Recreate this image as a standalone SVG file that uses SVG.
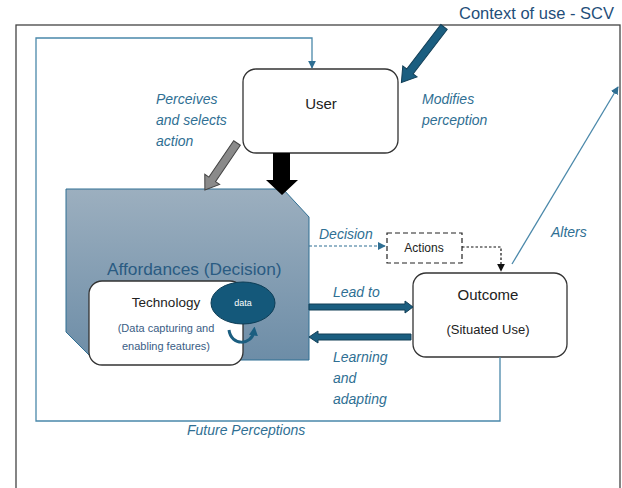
<svg xmlns="http://www.w3.org/2000/svg" width="622" height="488" viewBox="0 0 622 488">
<defs>
<style>
.lbl{font-family:"Liberation Sans",Arial,sans-serif;font-style:italic;font-size:14px;fill:#2f6f93}
.txt{font-family:"Liberation Sans",Arial,sans-serif;fill:#222}
.box{fill:#fff;stroke:#333;stroke-width:1.3}
.thin{fill:none;stroke:#4a88aa;stroke-width:1.3}
.blk{fill:#1b5e80;stroke:#123f57;stroke-width:1}
</style>
<linearGradient id="aff" x1="0" y1="0" x2="0" y2="1">
<stop offset="0" stop-color="#9cafbf"/>
<stop offset="1" stop-color="#6d8da7"/>
</linearGradient>
<marker id="mThin" viewBox="0 0 10 10" refX="9" refY="5" markerWidth="8" markerHeight="8" markerUnits="userSpaceOnUse" orient="auto">
<path d="M0,0 L10,5 L0,10 z" fill="#2f6f93"/>
</marker>
<marker id="mBlack" viewBox="0 0 10 10" refX="9" refY="5" markerWidth="8" markerHeight="8" markerUnits="userSpaceOnUse" orient="auto">
<path d="M0,0 L10,5 L0,10 z" fill="#111"/>
</marker>
<marker id="mCurl" viewBox="0 0 10 10" refX="5" refY="5" markerWidth="9" markerHeight="9" markerUnits="userSpaceOnUse" orient="auto">
<path d="M0,0 L10,5 L0,10 z" fill="#1b5e80"/>
</marker>
</defs>
<rect x="0" y="0" width="622" height="488" fill="#fff"/>
<rect id="frame" x="16" y="25" width="604" height="470" fill="none" stroke="#444" stroke-width="1.3"/>
<text x="459" y="19" style="font-family:'Liberation Sans',Arial,sans-serif;font-size:16.5px;fill:#1f4e79">Context of use - SCV</text>

<g id="affordances">
<polygon points="66,189 283,189 309,217 309,360 94,360 66,332" fill="url(#aff)" stroke="#2f6f93" stroke-width="1"/>
<text x="107" y="275" style="font-family:'Liberation Sans',Arial,sans-serif;font-size:17.3px;fill:#2a5b82">Affordances (Decision)</text>
</g>

<g id="technology">
<rect class="box" x="89" y="281" width="154" height="84" rx="13"/>
<text class="txt" x="166" y="307" text-anchor="middle" font-size="13.5">Technology</text>
<text x="166" y="332" text-anchor="middle" style="font-family:'Liberation Sans',Arial,sans-serif;font-size:11px;fill:#3a5d85">(Data capturing and</text>
<text x="166" y="350" text-anchor="middle" style="font-family:'Liberation Sans',Arial,sans-serif;font-size:11px;fill:#3a5d85">enabling features)</text>
</g>

<g id="data">
<ellipse cx="243" cy="303" rx="32" ry="21" fill="#14587a" stroke="#0d3d56" stroke-width="1"/>
<text x="243" y="306" text-anchor="middle" style="font-family:'Liberation Sans',Arial,sans-serif;font-size:9px;fill:#fff">data</text>
</g>

<g id="user">
<rect class="box" x="243" y="69" width="155" height="84" rx="13"/>
<text class="txt" x="321" y="109" text-anchor="middle" font-size="15">User</text>
</g>

<g id="actions">
<rect x="387" y="233" width="75" height="30" fill="#fff" stroke="#222" stroke-width="1.2" stroke-dasharray="5,3"/>
<text class="txt" x="424" y="252" text-anchor="middle" font-size="12">Actions</text>
</g>

<g id="outcome">
<rect class="box" x="413" y="273" width="154" height="84" rx="13"/>
<text class="txt" x="488" y="300" text-anchor="middle" font-size="15">Outcome</text>
<text class="txt" x="488" y="334" text-anchor="middle" font-size="13">(Situated Use)</text>
</g>

<g id="connectors">
<path class="thin" d="M500,357 V421 H36 V38 H312 V68" marker-end="url(#mThin)"/>
<line class="thin" x1="512" y1="264" x2="618" y2="87" marker-end="url(#mThin)"/>
<polygon class="blk" points="0,-4 56,-4 56,-9 70,0 56,9 56,4 0,4" transform="translate(444,27) rotate(127.5)"/>
<polygon points="0,-4 44,-4 44,-9 57,0 44,9 44,4 0,4" fill="#8a8a8a" stroke="#444" stroke-width="1" transform="translate(237,143) rotate(124.3)"/>
<polygon points="273,153 290,153 290,180 298,180 282,195 266,180 273,180" fill="#000"/>
<line x1="309" y1="246" x2="385" y2="246" stroke="#2f6f93" stroke-width="1.2" stroke-dasharray="3,2" marker-end="url(#mThin)"/>
<path d="M462,247 H501 V271" fill="none" stroke="#111" stroke-width="1.2" stroke-dasharray="2.5,2" marker-end="url(#mBlack)"/>
<polygon class="blk" points="309,304 405,304 405,301 413,307 405,313 405,310 309,310"/>
<polygon class="blk" points="411,334 318,334 318,331 309,337 318,343 318,340 411,340"/>
<path d="M229,330 C231,346 252,346 254,331" fill="none" stroke="#1b5e80" stroke-width="3" marker-end="url(#mCurl)"/>
</g>

<g id="labels">
<text class="lbl" x="156" y="104">Perceives</text>
<text class="lbl" x="156" y="125">and selects</text>
<text class="lbl" x="156" y="146">action</text>
<text class="lbl" x="422" y="104">Modifies</text>
<text class="lbl" x="422" y="125">perception</text>
<text class="lbl" x="551" y="237">Alters</text>
<text class="lbl" x="319" y="239">Decision</text>
<text class="lbl" x="333" y="297">Lead to</text>
<text class="lbl" x="333" y="362">Learning</text>
<text class="lbl" x="333" y="383">and</text>
<text class="lbl" x="333" y="404">adapting</text>
<text class="lbl" x="187" y="435">Future Perceptions</text>
</g>
</svg>
